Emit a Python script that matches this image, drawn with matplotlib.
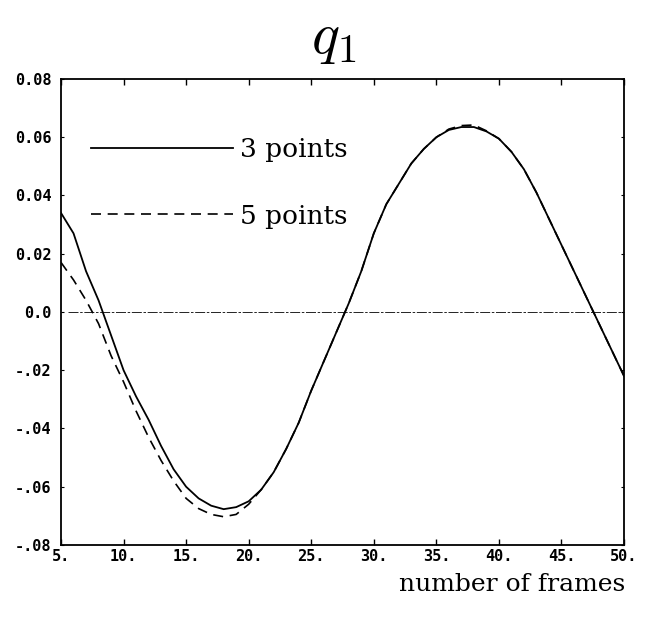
import matplotlib.pyplot as plt
from matplotlib.ticker import FixedLocator, FixedFormatter

# q1 estimates per frame, 3-point and 5-point schemes
frames = list(range(5, 51))
q1_3pts = [0.034, 0.027, 0.014, 0.004, -0.008, -0.020, -0.029, -0.037, -0.046, -0.054,
           -0.060, -0.064, -0.0665, -0.0677, -0.067, -0.065, -0.061, -0.055, -0.047, -0.038,
           -0.027, -0.017, -0.007, 0.003, 0.014, 0.027, 0.037, 0.044, 0.051, 0.056,
           0.060, 0.0625, 0.0635, 0.0635, 0.062, 0.0595, 0.055, 0.049, 0.041, 0.032,
           0.023, 0.014, 0.005, -0.004, -0.013, -0.022]
q1_5pts = [0.017, 0.011, 0.004, -0.004, -0.015, -0.024, -0.034, -0.043, -0.051, -0.058,
           -0.064, -0.0675, -0.0695, -0.0703, -0.0695, -0.066, -0.061, -0.055, -0.047, -0.038,
           -0.027, -0.017, -0.007, 0.003, 0.014, 0.027, 0.037, 0.044, 0.051, 0.056,
           0.060, 0.0628, 0.064, 0.0642, 0.0622, 0.0595, 0.055, 0.049, 0.041, 0.032,
           0.023, 0.014, 0.005, -0.004, -0.013, -0.022]

xticks = [5, 10, 15, 20, 25, 30, 35, 40, 45, 50]
xlabels = ["5.", "10.", "15.", "20.", "25.", "30.", "35.", "40.", "45.", "50."]
yticks = [0.08, 0.06, 0.04, 0.02, 0.0, -0.02, -0.04, -0.06, -0.08]
ylabels = ["0.08", "0.06", "0.04", "0.02", "0.0", "-.02", "-.04", "-.06", "-.08"]

plt.rcParams['mathtext.fontset'] = 'cm'
plt.rcParams['axes.unicode_minus'] = False

fig = plt.figure(figsize=(6.47, 6.17), dpi=100)
ax = fig.add_axes([0.0943, 0.1167, 0.8702, 0.7553])

ax.plot(frames, q1_3pts, color='black', lw=1.3, label='3 points')
ax.plot(frames, q1_5pts, color='black', lw=1.2, linestyle=(0, (6, 4)), label='5 points')
ax.axhline(0.0, xmin=0.012, color='black', lw=0.6, linestyle=(0, (12, 2, 3, 2)))

ax.set_xlim(5, 50)
ax.set_ylim(-0.08, 0.08)

tick_font = dict(family='DejaVu Sans Mono', weight='bold', size=11)
ax.xaxis.set_major_locator(FixedLocator(xticks))
ax.xaxis.set_major_formatter(FixedFormatter(xlabels))
ax.yaxis.set_major_locator(FixedLocator(yticks))
ax.yaxis.set_major_formatter(FixedFormatter(ylabels))
for lab in ax.get_xticklabels() + ax.get_yticklabels():
    lab.set_fontproperties(tick_font)
ax.tick_params(axis='x', direction='in', length=4, width=1, top=True, pad=3)
ax.tick_params(axis='y', direction='in', length=2, width=0.8, right=True, pad=7)
for s in ax.spines.values():
    s.set_linewidth(1.3)

ax.legend(loc='upper left', bbox_to_anchor=(0.029, 0.904), frameon=False,
          handlelength=5.4, handletextpad=0.25, labelspacing=1.58, borderpad=0,
          prop=dict(family='DejaVu Serif', size=19))

fig.text(0.515, 0.94, r'$q_1$', fontsize=42, ha='center', va='center')
fig.text(0.966, 0.052, 'number of frames', family='DejaVu Serif', fontsize=18,
         ha='right', va='center')

fig.savefig('out.png', dpi=100)
